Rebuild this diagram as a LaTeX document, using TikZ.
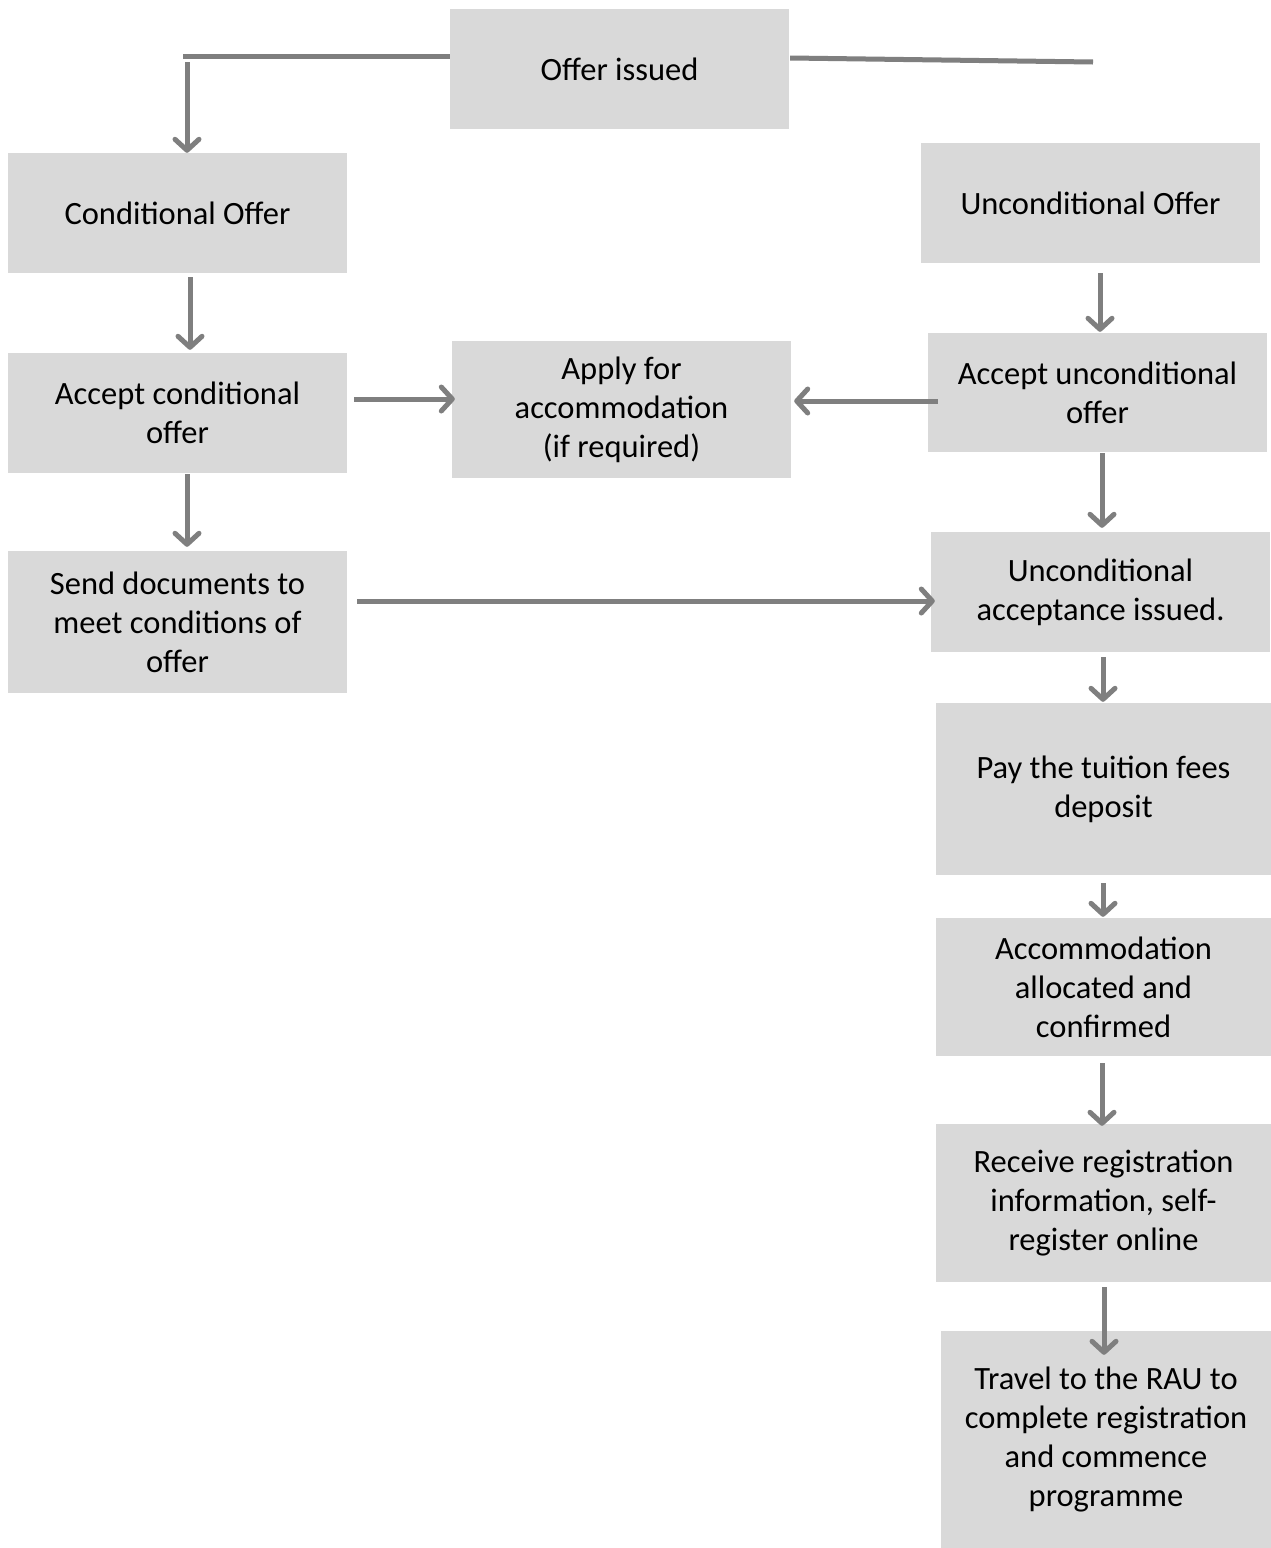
\documentclass[tikz,border=0pt]{standalone}
\usepackage{fontspec}
\setmainfont{Carlito}
\usetikzlibrary{arrows.meta, positioning, calc}
\definecolor{cbox}{HTML}{D9D9D9}
\definecolor{cline}{HTML}{7F7F7F}
\tikzset{
  box/.style={fill=cbox, align=center, inner sep=0pt, minimum width=339pt, minimum height=120pt,
    font=\fontsize{32.5pt}{39pt}\selectfont},
  link/.style={draw=cline, line width=5pt},
  arrow/.style={link, -{Straight Barb[length=11pt, width=24pt, round]}},
}

\begin{document}
\begin{tikzpicture}[x=1pt, y=-1pt]
  \fill[white] (0,0) rectangle (1271,1548);
  \useasboundingbox (0,0) rectangle (1271,1548);
  % the boxes, left column, middle and right column
  \node[box] (offer) at (619.5,69) {Offer issued};
  \node[box] (cond) at (177.5,213) {Conditional Offer};
  \node[box] (uncond) at (1090.5,203) {Unconditional Offer};
  \node[box] (acccond) at (177.5,413) {Accept conditional\\offer};
  \node[box, minimum height=137pt] (apply) at (621.5,409.5) {Apply for\\accommodation\\(if required)};
  \node[box, minimum height=119pt] (accunc) at (1097.5,392.5) {Accept unconditional\\offer};
  \node[box, minimum height=142pt] (senddoc) at (177.5,622) {Send documents to\\meet conditions of\\offer};
  \node[box] (uaccept) at (1100.5,592) {Unconditional\\acceptance issued.};
  \node[box, minimum width=335pt, minimum height=172pt] (deposit) at (1103.5,789) {Pay the tuition fees\\deposit};
  \node[box, minimum width=335pt, minimum height=138pt] (allocated) at (1103.5,987) {Accommodation\\allocated and\\confirmed};
  \node[box, minimum width=335pt, minimum height=158pt] (register) at (1103.5,1203) {Receive registration\\information, self-\\register online};
  \node[box, minimum width=330pt, minimum height=217pt] (travel) at (1106,1439.5) {Travel to the RAU to\\complete registration\\and commence\\programme};
  % lines out of the offer
  \coordinate (lcorner) at (183,56);
  \coordinate (ldrop) at (187,62);
  \coordinate (rend) at (1093,62);
  \draw[link] (offer.west |- lcorner) -- (lcorner);
  \draw[arrow] (ldrop) -- (ldrop |- cond.north);
  \draw[link] ($(offer.east)+(1,-11)$) -- (rend);
  % arrows between the steps
  \draw[arrow] ($(cond.south)+(12.5,4)$) -- ($(acccond.north)+(12.5,-3)$);
  \draw[arrow] ($(uncond.south)+(9.5,10)$) -- ($(accunc.north)+(2.5,-1)$);
  \draw[arrow] ($(acccond.east)+(7,-14)$) -- ($(apply.west)+(3,-10.5)$);
  \draw[arrow] ($(accunc.west)+(10,8.5)$) -- ($(apply.east)+(3,-8.5)$);
  \draw[arrow] ($(acccond.south)+(9.5,1)$) -- ($(senddoc.north)+(9.5,-4)$);
  \draw[arrow] ($(accunc.south)+(4.5,1)$) -- ($(uaccept.north)+(1.5,-4)$);
  \draw[arrow] ($(senddoc.east)+(10,-21)$) -- ($(uaccept.west)+(4,9)$);
  \draw[arrow] ($(uaccept.south)+(2.5,5)$) -- ($(deposit.north)+(-0.5,-1)$);
  \draw[arrow] ($(deposit.south)+(-0.5,8)$) -- ($(allocated.north)+(-0.5,-1)$);
  \draw[arrow] ($(allocated.south)+(-1.5,7)$) -- ($(register.north)+(-1.5,2)$);
  \draw[arrow] ($(register.south)+(0.5,5)$) -- ($(travel.north)+(-2,24)$);
\end{tikzpicture}
\end{document}
